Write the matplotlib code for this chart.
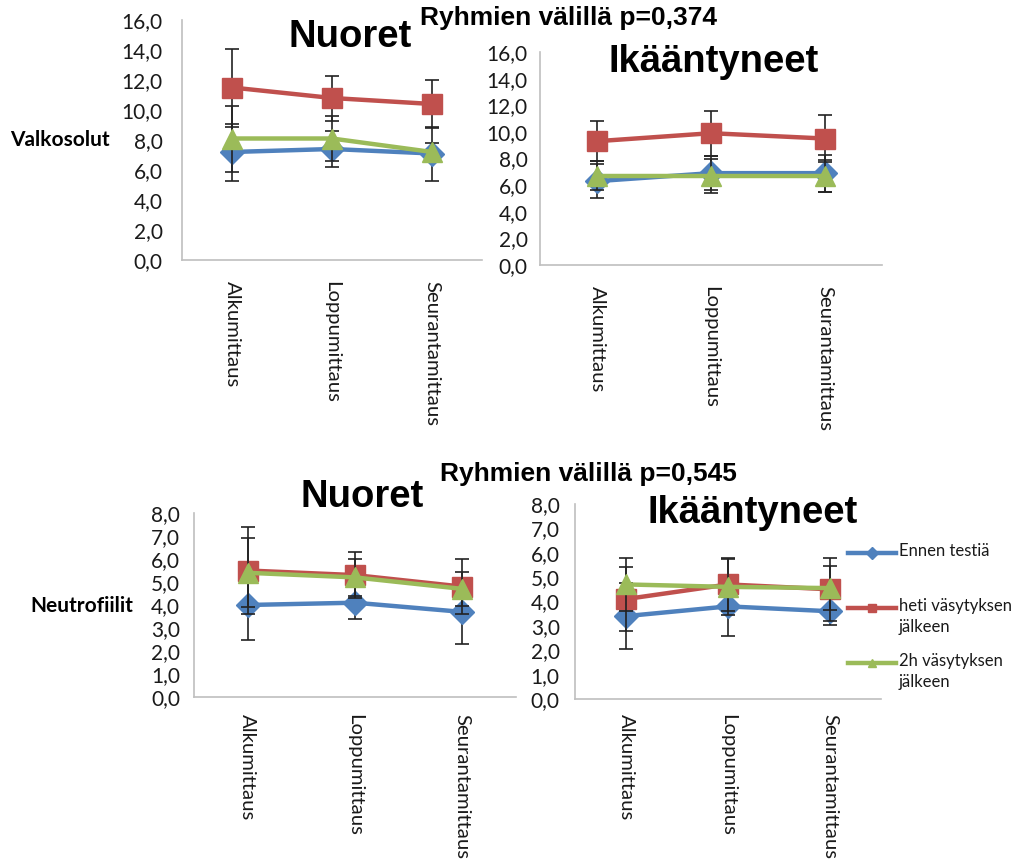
import matplotlib
matplotlib.use("Agg")
import matplotlib.pyplot as plt
from matplotlib.lines import Line2D
import matplotlib.ticker as ticker

plt.rcParams['font.family'] = ['Lato', 'DejaVu Sans']

mittaukset = ['Alkumittaus', 'Loppumittaus', 'Seurantamittaus']
sarjat = ['Ennen testiä', 'heti väsytyksen\njälkeen', '2h väsytyksen\njälkeen']

# valkosolut, nuoret / ikääntyneet (keskiarvo, keskihajonta)
valko_nuoret = [[7.2, 7.4, 7.1], [11.5, 10.8, 10.4], [8.1, 8.1, 7.2]]
valko_nuoret_sd = [[1.9, 1.2, 1.8], [2.6, 1.5, 1.6], [2.2, 1.5, 0.6]]
valko_ikaant = [[6.3, 6.9, 6.9], [9.3, 9.9, 9.5], [6.7, 6.7, 6.7]]
valko_ikaant_sd = [[1.3, 1.3, 1.4], [1.5, 1.7, 1.8], [1.1, 1.3, 1.2]]

# neutrofiilit
neutro_nuoret = [[4.0, 4.1, 3.7], [5.5, 5.3, 4.8], [5.4, 5.2, 4.7]]
neutro_nuoret_sd = [[1.5, 0.7, 1.4], [1.9, 1.0, 1.2], [1.5, 0.8, 0.75]]
neutro_ikaant = [[3.4, 3.8, 3.6], [4.1, 4.7, 4.5], [4.7, 4.6, 4.55]]
neutro_ikaant_sd = [[1.35, 1.2, 0.55], [1.3, 1.1, 1.3], [1.1, 1.15, 0.9]]

varit = ['#4F81BD', '#C0504D', '#9BBB59']
merkit = ['D', 's', '^']
koot = [12, 15, 14]

W, H = 1016, 867
fig = plt.figure(figsize=(W / 100, H / 100), dpi=100)


def paneeli(rect, arvot, sd, ymax, askel, ypad, xpad):
    l, t, r, b = rect
    ax = fig.add_axes([l / W, 1 - b / H, (r - l) / W, (b - t) / H])
    x = range(len(mittaukset))
    for i in range(3):
        ax.errorbar(x, arvot[i], yerr=sd[i], color=varit[i], lw=3.2,
                    marker=merkit[i], ms=koot[i], mec=varit[i],
                    ecolor='#222222', elinewidth=1.2, capsize=5, capthick=1.2,
                    zorder=3 + i)
    ax.set_xlim(-0.5, 2.5)
    ax.set_ylim(0, ymax)
    ax.yaxis.set_major_locator(ticker.MultipleLocator(askel))
    ax.yaxis.set_major_formatter(ticker.FuncFormatter(
        lambda v, p: f"{v:.1f}".replace('.', ',')))
    ax.set_xticks(list(x))
    ax.set_xticklabels(mittaukset, rotation=270, va='top', ha='center')
    ax.tick_params(length=0, labelsize=15, colors='#1a1a1a')
    ax.tick_params(axis='x', labelsize=14.6, pad=xpad)
    ax.tick_params(axis='y', pad=ypad)
    for s in ['top', 'right']:
        ax.spines[s].set_visible(False)
    for s in ['left', 'bottom']:
        ax.spines[s].set_color('#bfbfbf')
        ax.spines[s].set_linewidth(1.2)
    ax.patch.set_alpha(0)
    return ax


paneeli((182, 20, 482, 260), valko_nuoret, valko_nuoret_sd, 16, 2, 14, 15)
paneeli((540, 52, 882, 265), valko_ikaant, valko_ikaant_sd, 16, 2, 9, 15)
paneeli((194, 513, 516, 697), neutro_nuoret, neutro_nuoret_sd, 8, 1, 10, 12)
paneeli((575, 504, 881, 699), neutro_ikaant, neutro_ikaant_sd, 8, 1, 11, 11)

otsikko = dict(fontsize=27.5, fontweight='bold', family=['Liberation Sans'],
               ha='center', va='center')
fig.text(350 / W, 1 - 37 / H, 'Nuoret', **otsikko)
fig.text(714 / W, 1 - 62 / H, 'Ikääntyneet', **otsikko)
fig.text(362 / W, 1 - 497 / H, 'Nuoret', **otsikko)
fig.text(753 / W, 1 - 513 / H, 'Ikääntyneet', **otsikko)

ryhma = dict(fontsize=19, fontweight='bold', family=['Liberation Sans'],
             ha='center', va='center')
fig.text(568 / W, 1 - 18 / H, 'Ryhmien välillä p=0,374', **ryhma)
fig.text(588 / W, 1 - 474 / H, 'Ryhmien välillä p=0,545', **ryhma)

rivi = dict(fontsize=15, fontweight='bold', ha='right', va='center')
fig.text(110 / W, 1 - 140 / H, 'Valkosolut', **rivi)
fig.text(133 / W, 1 - 606 / H, 'Neutrofiilit', **rivi)

# selite
for i, nimi in enumerate(sarjat):
    y = 1 - (553 + 55 * i) / H
    fig.add_artist(Line2D([848 / W, 896 / W], [y, y], transform=fig.transFigure,
                          color=varit[i], lw=3.2))
    fig.add_artist(Line2D([872 / W], [y], transform=fig.transFigure,
                          color=varit[i], marker=merkit[i], ms=6, lw=0))
    fig.text(899 / W, y + 10 / H, nimi, fontsize=12, ha='left', va='top',
             linespacing=1.35, color='#1a1a1a')

fig.savefig('out.png', dpi=100)
